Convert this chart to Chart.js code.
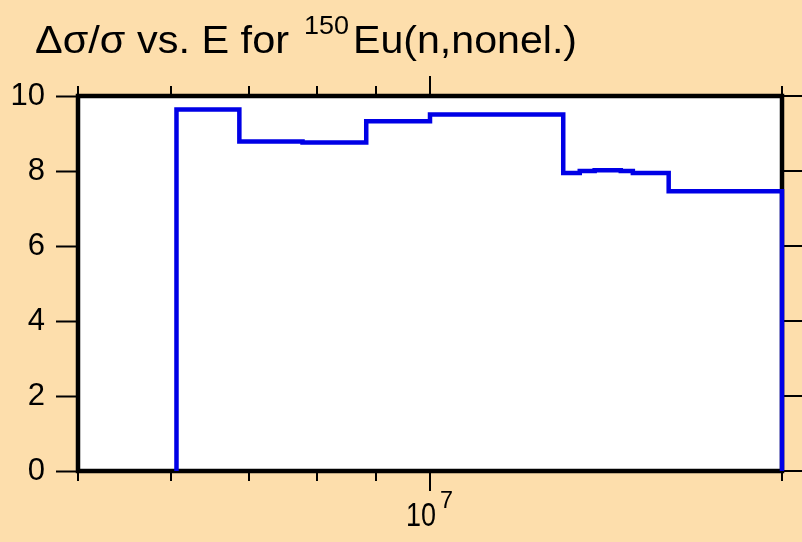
<!DOCTYPE html>
<html>
<head>
<meta charset="utf-8">
<script src="https://cdn.jsdelivr.net/npm/chart.js@4/dist/chart.umd.min.js"></script>
<style>
  html, body { margin: 0; padding: 0; background: #fddeac; }
  #wrap { width: 802px; height: 542px; }
</style>
</head>
<body>
<div id="wrap"><canvas id="uncChart" width="802" height="542"></canvas></div>
<script>
// group boundaries (eV) and relative uncertainty (%) per group
const energyEdges = [6.07e6, 6.87e6, 7.78e6, 8.82e6, 1.0e7, 1.30e7, 1.343e7, 1.383e7, 1.456e7, 1.491e7, 1.60e7, 2.0e7];
const relUncertainty = [9.64, 8.79, 8.76, 9.33, 9.51, 7.95, 8.00, 8.02, 8.00, 7.95, 7.46];
const xTickValues = [5e6, 6e6, 7e6, 8e6, 9e6, 1e7, 2e7];
const yTickValues = [0, 2, 4, 6, 8, 10];
const majorX = 1e7;

const FONT = "'Liberation Sans', Arial, sans-serif";

// histogram outline: rise from zero at the first edge, drop back at the last
const stepPoints = [{ x: energyEdges[0], y: 0 }];
relUncertainty.forEach(function (v, i) {
    stepPoints.push({ x: energyEdges[i], y: v });
});
stepPoints.push({ x: energyEdges[energyEdges.length - 1], y: 0 });

const framePlugin = {
    id: "frame",
    beforeDraw: function (chart) {
        const a = chart.chartArea, ctx = chart.ctx;
        ctx.save();
        ctx.fillStyle = "#ffffff";
        ctx.fillRect(a.left, a.top, a.right - a.left, a.bottom - a.top);
        ctx.restore();
    },
    beforeDatasetsDraw: function (chart) {
        const a = chart.chartArea, ctx = chart.ctx;
        const xs = chart.scales.x, ys = chart.scales.y;
        ctx.save();
        ctx.strokeStyle = "#000";
        ctx.lineWidth = 2;
        ctx.beginPath();
        // top and bottom ticks
        xs.ticks.forEach(function (t) {
            const px = Math.round(xs.getPixelForValue(t.value));
            const len = t.value === majorX ? 20 : 10;
            ctx.moveTo(px, a.top - len);
            ctx.lineTo(px, a.top);
            ctx.moveTo(px, a.bottom);
            ctx.lineTo(px, a.bottom + len);
        });
        // right ticks
        ys.ticks.forEach(function (t) {
            const py = Math.round(ys.getPixelForValue(t.value));
            ctx.moveTo(a.right, py);
            ctx.lineTo(a.right + 22, py);
        });
        ctx.stroke();
        ctx.lineWidth = 4.5;
        ctx.strokeRect(a.left, a.top, a.right - a.left, a.bottom - a.top);
        ctx.restore();
    },
    afterDraw: function (chart) {
        const ctx = chart.ctx, xs = chart.scales.x;
        ctx.save();
        ctx.fillStyle = "#000";
        ctx.textBaseline = "alphabetic";

        function fitText(txt, font, x, y, width) {
            ctx.font = font;
            const w = ctx.measureText(txt).width;
            ctx.save();
            ctx.translate(x, y);
            ctx.scale(width / w, 1);
            ctx.fillText(txt, 0, 0);
            ctx.restore();
        }

        // x label 10^7, base spans 30px, exponent just right of it
        const px = xs.getPixelForValue(majorX);
        fitText("10", "33px " + FONT, px - 24, 526, 30);
        fitText("7", "23px " + FONT, px + 10, 508, 13);

        // title with superscript mass number
        fitText("\u0394\u03c3/\u03c3 vs. E for", "38px " + FONT, 35, 53, 254);
        fitText("150", "25px " + FONT, 304, 34, 45);
        fitText("Eu(n,nonel.)", "38px " + FONT, 353, 53, 224);
        ctx.restore();
    }
};

new Chart(document.getElementById("uncChart"), {
    type: "line",
    data: {
        datasets: [{
            data: stepPoints,
            stepped: true,
            borderColor: "#0000e6",
            borderWidth: 4.5,
            pointRadius: 0,
            fill: false,
            clip: false
        }]
    },
    options: {
        responsive: false,
        animation: false,
        events: [],
        layout: { padding: { top: 96, right: 20, left: 0, bottom: 0 } },
        plugins: {
            legend: { display: false },
            tooltip: { enabled: false }
        },
        scales: {
            x: {
                type: "logarithmic",
                min: 5e6,
                max: 2e7,
                afterBuildTicks: function (scale) {
                    scale.ticks = xTickValues.map(function (v) { return { value: v }; });
                },
                afterFit: function (scale) { scale.height = 71; },
                ticks: { display: false },
                grid: { display: false },
                border: { display: false }
            },
            y: {
                min: 0,
                max: 10,
                afterBuildTicks: function (scale) {
                    scale.ticks = yTickValues.map(function (v) { return { value: v }; });
                },
                afterFit: function (scale) { scale.width = 78; },
                ticks: {
                    color: "#000",
                    padding: 11,
                    font: { family: FONT, size: 31 }
                },
                grid: {
                    drawOnChartArea: false,
                    tickLength: 22,
                    tickColor: "#000",
                    tickWidth: 2
                },
                border: { display: false }
            }
        }
    },
    plugins: [framePlugin]
});
</script>
</body>
</html>
